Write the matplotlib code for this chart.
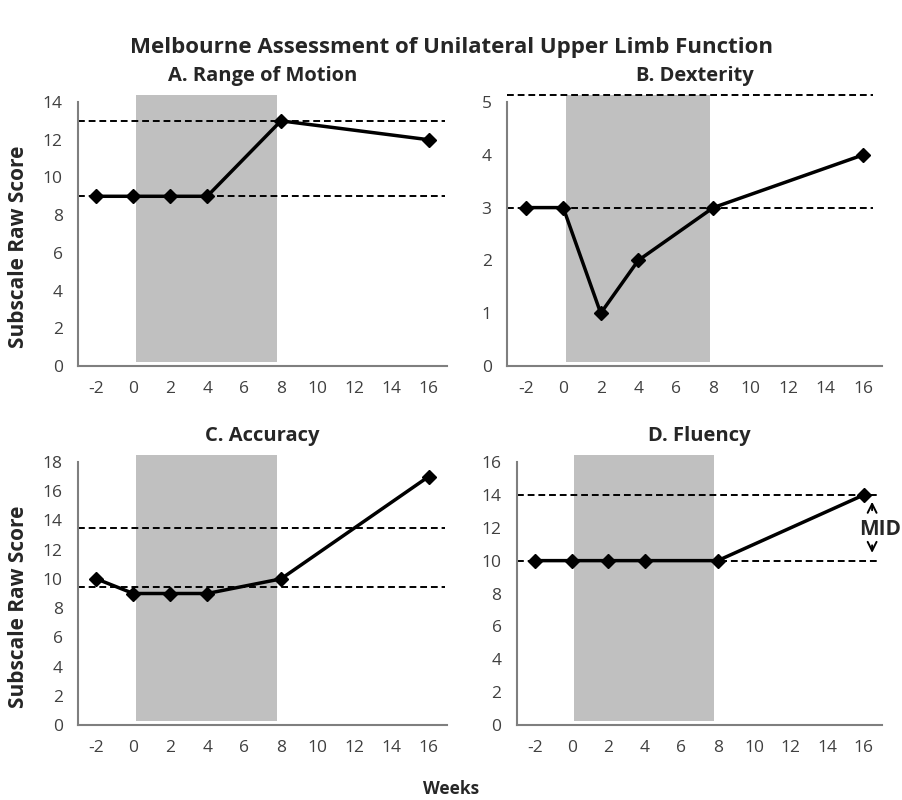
import matplotlib
matplotlib.use("Agg")
import matplotlib.pyplot as plt

plt.rcParams['font.family'] = ['Open Sans', 'DejaVu Sans']
plt.rcParams['axes.unicode_minus'] = False

weeks = [-2, 0, 2, 4, 8, 16]
xticks = [-2, 0, 2, 4, 6, 8, 10, 12, 14, 16]

titles = ["A. Range of Motion", "B. Dexterity", "C. Accuracy", "D. Fluency"]
scores = [
    [9, 9, 9, 9, 13, 12],
    [3, 3, 1, 2, 3, 4],
    [10, 9, 9, 9, 10, 17],
    [10, 10, 10, 10, 10, 14],
]
ref_lines = [[9, 13], [3, 5.13], [9.45, 13.45], [10, 14]]
ref_xmax = [16.9, 16.5, 16.9, 16.9]
ymaxes = [14, 5, 18, 16]
ysteps = [2, 1, 2, 2]
band_start, band_end = 0.15, 7.8

positions = [
    [0.0865, 0.5425, 0.4091, 0.33],
    [0.562, 0.5425, 0.416, 0.33],
    [0.0865, 0.09375, 0.4091, 0.32875],
    [0.573, 0.09375, 0.405, 0.32875],
]

fig = plt.figure(figsize=(9.02, 8.0), dpi=100)
txt = '#262626'
tick_c = '#404040'

for i in range(4):
    ax = fig.add_axes(positions[i])
    ax.set_xlim(-3, 17)
    ax.set_ylim(0, ymaxes[i])
    ax.axvspan(band_start, band_end, ymin=0.015, ymax=1.027, color='#c0c0c0',
               lw=0, clip_on=False, zorder=0)
    for r in ref_lines[i]:
        ax.plot([-3, ref_xmax[i]], [r, r], ls=(0, (3.5, 2)), color='black',
                lw=1.4, clip_on=False, zorder=2)
    ax.plot(weeks, scores[i], color='black', lw=2.5, marker='D', ms=7,
            zorder=3, clip_on=False)
    ax.set_xticks(xticks)
    ax.set_yticks(range(0, ymaxes[i] + 1, ysteps[i]))
    ax.tick_params(axis='x', length=0, labelsize=12.5, labelcolor=tick_c, pad=11)
    ax.tick_params(axis='y', length=0, labelsize=12.5, labelcolor=tick_c, pad=11)
    for s in ['top', 'right']:
        ax.spines[s].set_visible(False)
    for s in ['left', 'bottom']:
        ax.spines[s].set_color('#7f7f7f')
        ax.spines[s].set_linewidth(1.5)
    ax.set_title(titles[i], fontsize=14.5, fontweight='bold', color=txt, pad=15)
    if i in (0, 2):
        ax.set_ylabel("Subscale Raw Score", fontsize=15, fontweight='bold',
                      color=txt)
        ax.yaxis.set_label_coords(-0.133, 0.45)
    if i == 3:
        ax.annotate("", xy=(16.45, 13.75), xytext=(16.45, 12.9),
                    arrowprops=dict(arrowstyle='->', color='black', lw=1.4,
                                    mutation_scale=16),
                    annotation_clip=False)
        ax.annotate("", xy=(16.45, 10.3), xytext=(16.45, 11.1),
                    arrowprops=dict(arrowstyle='->', color='black', lw=1.4,
                                    mutation_scale=16),
                    annotation_clip=False)
        ax.text(16.9, 11.9, "MID", fontsize=15, fontweight='bold', color=txt,
                ha='center', va='center', clip_on=False)

fig.text(0.5, 0.94, "Melbourne Assessment of Unilateral Upper Limb Function",
         ha='center', va='center', fontsize=16, fontweight='bold', color=txt)
fig.text(0.5, 0.014, "Weeks", ha='center', va='center', fontsize=12.5,
         fontweight='bold', color=txt)

fig.savefig("out.png", dpi=100)
